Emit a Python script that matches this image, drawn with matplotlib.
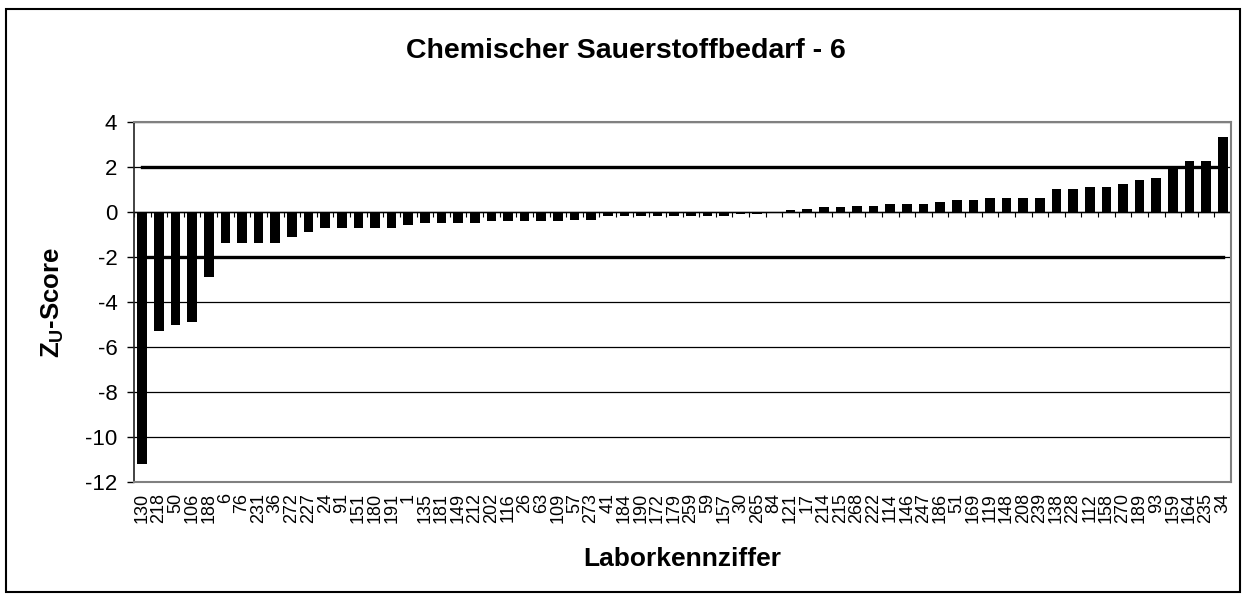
import numpy as np
from matplotlib import pyplot as plt
from matplotlib.patches import Rectangle

labs = ["130", "218", "50", "106", "188", "6", "76", "231", "36", "272", "227", "24", "91",
        "151", "180", "191", "1", "135", "181", "149", "212", "202", "116", "26", "63", "109",
        "57", "273", "41", "184", "190", "172", "179", "259", "59", "157", "30", "265", "84",
        "121", "17", "214", "215", "268", "222", "114", "146", "247", "186", "51", "169", "119",
        "148", "208", "239", "138", "228", "112", "158", "270", "189", "93", "159", "164", "235", "34"]
zscores = [-11.2, -5.27, -5.04, -4.89, -2.89, -1.38, -1.38, -1.38, -1.38, -1.13, -0.89,
           -0.73, -0.73, -0.73, -0.73, -0.73, -0.58, -0.49, -0.49, -0.49, -0.49,
           -0.41, -0.41, -0.41, -0.41, -0.41, -0.34, -0.34,
           -0.18, -0.18, -0.18, -0.18, -0.18, -0.18, -0.18, -0.18, -0.09, -0.09, -0.02,
           0.10, 0.12, 0.21, 0.21, 0.28, 0.28, 0.37, 0.37, 0.37, 0.44, 0.55, 0.55,
           0.62, 0.62, 0.62, 0.62, 1.02, 1.02, 1.10, 1.10, 1.24, 1.42, 1.50, 1.90,
           2.28, 2.28, 3.32]
limit = 2.0
yticks = list(range(-12, 5, 2))

plt.rcParams["font.family"] = ["Liberation Sans", "DejaVu Sans"]
plt.rcParams["axes.unicode_minus"] = False
plt.rcParams["mathtext.fontset"] = "custom"
plt.rcParams["mathtext.rm"] = "Liberation Sans:bold"
plt.rcParams["mathtext.bf"] = "Liberation Sans:bold"

fig = plt.figure(figsize=(12.46, 5.98), dpi=100)
ax = fig.add_axes([134 / 1246, 1 - 482 / 598, (1231 - 134) / 1246, (482 - 122) / 598])

n = len(zscores)
x = np.arange(n)
ax.bar(x, zscores, width=0.58, color="black", zorder=3)

# grenzen +-2
ax.plot([0, n - 1], [limit, limit], color="black", lw=2.4, zorder=4)
ax.plot([0, n - 1], [-limit, -limit], color="black", lw=2.4, zorder=4)

# nulllinie mit kategorie-ticks
ax.axhline(0, color="black", lw=1.0, zorder=2)
ax.vlines(np.arange(n + 1) - 0.5, 0, -0.22, color="black", lw=0.8, zorder=2)

ax.set_xlim(-0.5, n - 0.5)
ax.set_ylim(-12, 4)
ax.set_yticks(yticks)
ax.set_yticklabels([str(t) for t in yticks], fontsize=16)
ax.yaxis.grid(True, color="black", lw=0.9, zorder=0)
ax.set_axisbelow(True)
ax.tick_params(axis="y", length=5, width=1, direction="out", pad=7)

ax.set_xticks(x)
ax.set_xticklabels(labs, rotation=90, fontsize=13, va="top")
ax.tick_params(axis="x", length=0, pad=8)

for side in ["top", "right", "bottom"]:
    ax.spines[side].set_color("#808080")
    ax.spines[side].set_linewidth(1.5)
ax.spines["left"].set_color("#222222")
ax.spines["left"].set_linewidth(1.2)

ax.set_xlabel("Laborkennziffer", fontsize=19, fontweight="bold", labelpad=17)
ax.set_ylabel(r"$\mathregular{Z_U}$-Score", fontsize=18.5, fontweight="bold", labelpad=14)
fig.text(626 / 1246, 1 - 51 / 598, "Chemischer Sauerstoffbedarf - 6", fontsize=20.5,
         fontweight="bold", ha="center", va="center")

fig.add_artist(Rectangle((6 / 1246, 1 - 592 / 598), (1240 - 6) / 1246, (592 - 9) / 598,
                         transform=fig.transFigure, fill=False, edgecolor="black", lw=1.5))

fig.savefig("out.png", dpi=100)
